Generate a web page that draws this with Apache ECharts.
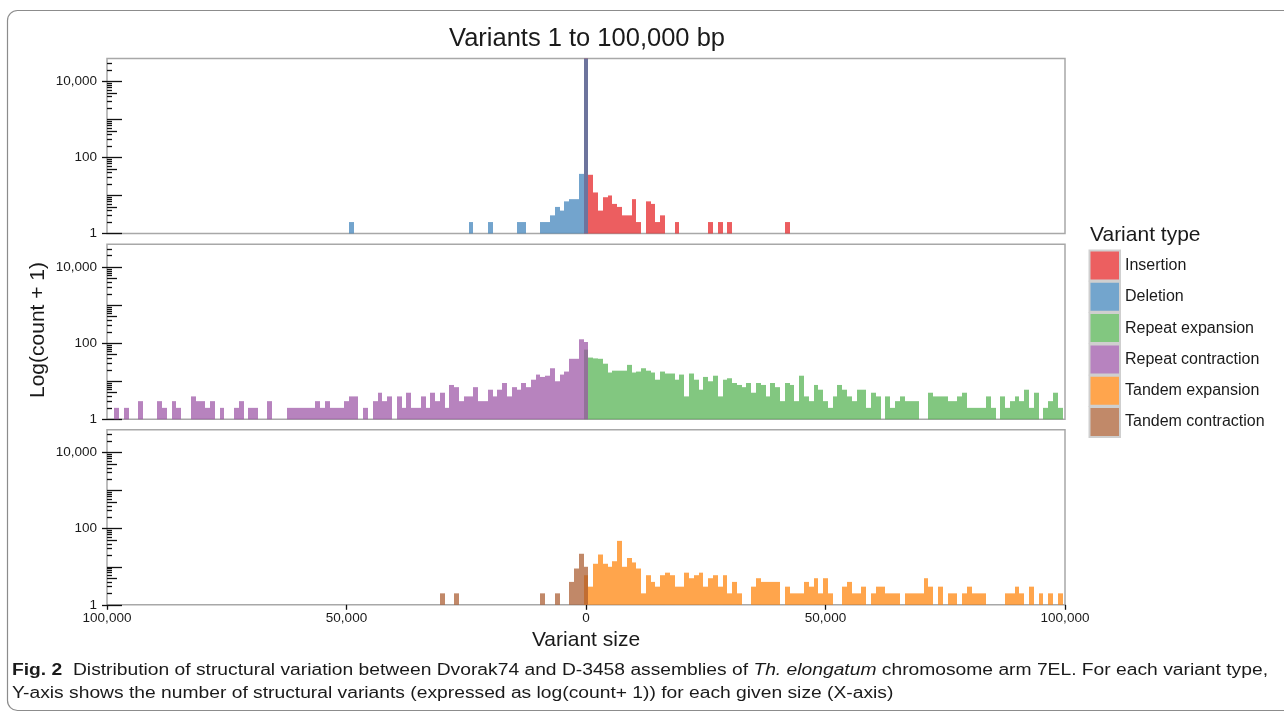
<!DOCTYPE html>
<html>
<head>
<meta charset="utf-8">
<title>Variants 1 to 100,000 bp</title>
<script src="https://cdn.jsdelivr.net/npm/echarts@6.0.0/dist/echarts.min.js"></script>
<style>
  html, body { margin: 0; padding: 0; background: #fff; }
  #chart { width: 1284px; height: 713px; }
</style>
</head>
<body>
<div id="chart"></div>
<script>
// histogram bins are 1,000 bp wide; bin index k = centre at k * 1000 bp
// (left of 0 = contractions / deletions, right of 0 = expansions / insertions)
const BIN = 1000;
const xMin = -100000;
const xMax = 100000;
const xStep = 50000;
const yMax = 40000;                 // top of each panel, in count + 1
const yLabelValues = [1, 100, 10000];

const typeNames = ['Insertion', 'Deletion', 'Repeat expansion', 'Repeat contraction', 'Tandem expansion', 'Tandem contraction'];
const typeColors = ['#e41a1c', '#377eb8', '#4daf4a', '#984ea3', '#ff7f00', '#a65628'];

// counts per bin, first value belongs to bin "...Start"
const insertionStart = 0;
const insertionCounts = [45000, 34, 11, 3, 8, 9, 5, 4, 2, 2, 7, 1, 0, 6, 5, 1, 2, 0, 0, 1,
  0, 0, 0, 0, 0, 0, 1, 0, 1, 0, 1, 0, 0, 0, 0, 0, 0, 0, 0, 0, 0, 0, 1];

const deletionStart = -49;
const deletionCounts = [1, 0, 0, 0, 0, 0, 0, 0, 0, 0, 0, 0, 0, 0, 0, 0, 0, 0, 0, 0, 0, 0, 0, 0, 0,
  1, 0, 0, 0, 1, 0, 0, 0, 0, 0, 1, 1, 0, 0, 0, 1, 1, 2, 4, 3, 6, 7, 7, 36, 50000];

const repeatExpansionStart = 0;
const repeatExpansionCounts = [67, 41, 39, 38, 28, 16, 18, 18, 18, 26,
  16, 17, 21, 18, 16, 10, 17, 15, 15, 10,
  14, 3, 15, 10, 5, 12, 9, 13, 3, 10,
  11, 8, 7, 6, 8, 4, 8, 7, 3, 8,
  6, 2, 8, 7, 2, 13, 3, 2, 7, 5,
  2, 1, 3, 7, 5, 3, 2, 5, 5, 1,
  4, 3, 0, 3, 1, 2, 3, 2, 2, 2,
  0, 0, 4, 3, 3, 3, 2, 2, 3, 4,
  1, 1, 1, 1, 3, 1, 0, 3, 1, 2,
  3, 2, 5, 1, 4, 0, 1, 2, 4, 1];

const repeatContractionStart = -98;
const repeatContractionCounts = [1, 0, 1, 0, 0, 2, 0, 0, 0, 2,
  1, 0, 2, 1, 0, 0, 3, 2, 2, 1,
  2, 0, 1, 0, 0, 1, 2, 0, 1, 1,
  0, 0, 2, 0, 0, 0, 1, 1, 1, 1,
  1, 1, 2, 1, 2, 1, 1, 1, 2, 3,
  3, 0, 1, 0, 2, 4, 2, 3, 0, 3,
  1, 4, 1, 1, 3, 1, 4, 2, 4, 1,
  7, 6, 2, 3, 3, 6, 2, 2, 5, 3,
  5, 8, 3, 6, 5, 8, 6, 10, 14, 12,
  13, 21, 9, 14, 17, 38, 38, 126, 107];

const tandemExpansionStart = 0;
const tandemExpansionCounts = [5, 2, 11, 20, 11, 9, 13, 47, 9, 16,
  12, 8, 1, 5, 3, 2, 5, 6, 5, 2,
  2, 6, 4, 5, 6, 2, 4, 5, 2, 5,
  1, 3, 1, 0, 0, 2, 4, 3, 3, 3,
  3, 0, 2, 1, 1, 1, 3, 2, 4, 1,
  4, 1, 0, 0, 2, 3, 1, 1, 2, 0,
  1, 2, 2, 1, 1, 1, 0, 1, 1, 1,
  1, 4, 2, 0, 2, 0, 1, 1, 0, 1,
  2, 1, 1, 1, 0, 0, 0, 0, 1, 1,
  2, 1, 0, 2, 0, 1, 0, 1, 0, 1];

const tandemContractionStart = -30;
const tandemContractionCounts = [1, 0, 0, 1, 0, 0, 0, 0, 0, 0, 0, 0, 0, 0, 0, 0, 0, 0, 0, 0, 0,
  1, 0, 0, 1, 0, 0, 3, 8, 21, 9];

const seriesInfo = [
  { start: insertionStart, counts: insertionCounts, panel: 0 },
  { start: deletionStart, counts: deletionCounts, panel: 0 },
  { start: repeatExpansionStart, counts: repeatExpansionCounts, panel: 1 },
  { start: repeatContractionStart, counts: repeatContractionCounts, panel: 1 },
  { start: tandemExpansionStart, counts: tandemExpansionCounts, panel: 2 },
  { start: tandemContractionStart, counts: tandemContractionCounts, panel: 2 }
];

const FONT = '"Liberation Sans", Arial, Helvetica, sans-serif';
const INK = '#1a1a1a';
const lg = v => Math.log10(v);

// the same colours washed at 70 % over white, for the legend keys
function wash(hex, a) {
  const n = parseInt(hex.slice(1), 16);
  const c = [n >> 16, (n >> 8) & 255, n & 255].map(v => Math.round(v * a + 255 * (1 - a)));
  return 'rgb(' + c.join(',') + ')';
}

// log ticks: decades long, fives medium, the rest short
const decades = [1, 10, 100, 1000, 10000];
const fives = [5, 50, 500, 5000];
const minors = [];
[1, 10, 100, 1000, 10000].forEach(d => {
  [2, 3, 4, 6, 7, 8, 9].forEach(m => { if (m * d < yMax) minors.push(m * d); });
});

const panelTops = [58.5, 244.3, 429.8];
const grids = panelTops.map(top => ({
  left: 107, width: 958, top: top, height: 175,
  show: true, borderColor: '#a8a8a8', borderWidth: 1.5,
  outerBoundsMode: 'none'
}));

const tickLine = { color: '#111', width: 1.3 };

const xAxes = panelTops.map((t, g) => {
  const bottom = g === panelTops.length - 1;
  return {
    type: 'value', gridIndex: g, min: xMin, max: xMax, interval: xStep,
    axisLine: { show: false, onZero: false }, splitLine: { show: false },
    axisTick: { show: bottom, length: 5, lineStyle: tickLine },
    axisLabel: {
      show: bottom, margin: 6, fontSize: 13.5, color: INK, fontFamily: FONT,
      formatter: v => Math.abs(v).toLocaleString('en-US')
    }
  };
});

const yAxes = [];
panelTops.forEach((t, g) => {
  const base = {
    type: 'value', gridIndex: g, min: 0, max: lg(yMax), position: 'left', offset: 0,
    axisLine: { show: false, onZero: false }, splitLine: { show: false }, axisLabel: { show: false }
  };
  yAxes.push(Object.assign({}, base, {
    axisLabel: {
      show: true, customValues: yLabelValues.map(lg), margin: 10,
      fontSize: 13.5, color: INK, fontFamily: FONT,
      formatter: v => Math.round(Math.pow(10, v)).toLocaleString('en-US')
    },
    axisTick: { show: true, customValues: yLabelValues.map(lg), length: 5, lineStyle: tickLine }
  }));
  yAxes.push(Object.assign({}, base, {
    axisTick: { show: true, inside: true, customValues: decades.map(lg), length: 15, lineStyle: tickLine }
  }));
  yAxes.push(Object.assign({}, base, {
    axisTick: { show: true, inside: true, customValues: fives.map(lg), length: 10, lineStyle: tickLine }
  }));
  yAxes.push(Object.assign({}, base, {
    axisTick: { show: true, inside: true, customValues: minors.map(lg), length: 5, lineStyle: tickLine }
  }));
});

function renderBar(params, api) {
  const x = api.value(0);
  const y = api.value(1);
  const a = api.coord([x - BIN / 2, y]);
  const b = api.coord([x + BIN / 2, 0]);
  const x0 = Math.round(a[0]);
  const x1 = Math.round(b[0]);
  const cs = params.coordSys;
  const shape = echarts.graphic.clipRectByRect(
    { x: x0, y: a[1], width: x1 - x0, height: b[1] - a[1] },
    { x: cs.x, y: cs.y, width: cs.width, height: cs.height }
  );
  if (!shape) return null;
  return { type: 'rect', shape: shape, style: { fill: api.visual('color'), opacity: 0.7 } };
}

const series = seriesInfo.map((s, i) => {
  const data = [];
  s.counts.forEach((c, j) => {
    if (c > 0) data.push([(s.start + j) * BIN, lg(c + 1)]);
  });
  return {
    name: typeNames[i], type: 'custom', renderItem: renderBar,
    xAxisIndex: s.panel, yAxisIndex: s.panel * 4,
    encode: { x: 0, y: 1 },
    itemStyle: { color: typeColors[i] },
    data: data
  };
});

// caption: stretch to the printed line length
const capSize = 16;
const capFamily = '"Liberation Sans", Arial, sans-serif';
const capLine1 = [
  ['Fig. 2', 'bold', 'normal'],
  ['  Distribution of structural variation between Dvorak74 and D-3458 assemblies of ', 'normal', 'normal'],
  ['Th. elongatum', 'normal', 'italic'],
  [' chromosome arm 7EL. For each variant type,', 'normal', 'normal']
];
const capLine2 = 'Y-axis shows the number of structural variants (expressed as log(count+ 1)) for each given size (X-axis)';
const mctx = document.createElement('canvas').getContext('2d');
let capW = 0;
capLine1.forEach(p => {
  mctx.font = p[2] + ' ' + p[1] + ' ' + capSize + 'px ' + capFamily;
  capW += mctx.measureText(p[0]).width;
});
const capScale = 1256 / capW;
const capRich = {
  b: { fontWeight: 'bold', fontSize: capSize, fontFamily: capFamily, fill: INK },
  n: { fontSize: capSize, fontFamily: capFamily, fill: INK },
  i: { fontStyle: 'italic', fontSize: capSize, fontFamily: capFamily, fill: INK }
};

const chart = echarts.init(document.getElementById('chart'), null, { renderer: 'canvas' });
chart.setOption({
  animation: false,
  backgroundColor: '#fff',
  grid: grids,
  xAxis: xAxes,
  yAxis: yAxes,
  legend: {
    orient: 'vertical', left: 1088.5, top: 249.5, padding: 0,
    itemWidth: 30.5, itemHeight: 30, itemGap: -0.7,
    icon: 'rect', selectedMode: false,
    itemStyle: { borderColor: '#cfcfcf', borderWidth: 2 },
    textStyle: { fontSize: 16, color: INK, fontFamily: FONT },
    data: typeNames.map((n, i) => ({ name: n, itemStyle: { color: wash(typeColors[i], 0.7), opacity: 1 } }))
  },
  graphic: [
    {
      type: 'rect', silent: true, z: 0,
      shape: { x: 7.5, y: 10.5, width: 1300, height: 700, r: 10 },
      style: { fill: 'none', stroke: '#8c8c8c', lineWidth: 1.2 }
    },
    {
      type: 'text', x: 587, y: 39,
      style: { text: 'Variants 1 to 100,000 bp', font: '25.5px ' + FONT, fill: INK, textAlign: 'center', textVerticalAlign: 'middle' }
    },
    {
      type: 'text', x: 38, y: 330, rotation: Math.PI / 2,
      style: { text: 'Log(count + 1)', font: '21px ' + FONT, fill: INK, textAlign: 'center', textVerticalAlign: 'middle' }
    },
    {
      type: 'text', x: 586, y: 640,
      style: { text: 'Variant size', font: '21px ' + FONT, fill: INK, textAlign: 'center', textVerticalAlign: 'middle' }
    },
    {
      type: 'text', x: 1090, y: 235,
      style: { text: 'Variant type', font: '21px ' + FONT, fill: INK, textAlign: 'left', textVerticalAlign: 'middle' }
    },
    {
      type: 'text', x: 12, y: 671, scaleX: capScale,
      style: {
        text: '{b|' + capLine1[0][0] + '}{n|' + capLine1[1][0] + '}{i|' + capLine1[2][0] + '}{n|' + capLine1[3][0] + '}',
        rich: capRich, textAlign: 'left', textVerticalAlign: 'middle'
      }
    },
    {
      type: 'text', x: 12, y: 694, scaleX: capScale,
      style: { text: '{n|' + capLine2 + '}', rich: capRich, textAlign: 'left', textVerticalAlign: 'middle' }
    }
  ],
  series: series
});
</script>
</body>
</html>
